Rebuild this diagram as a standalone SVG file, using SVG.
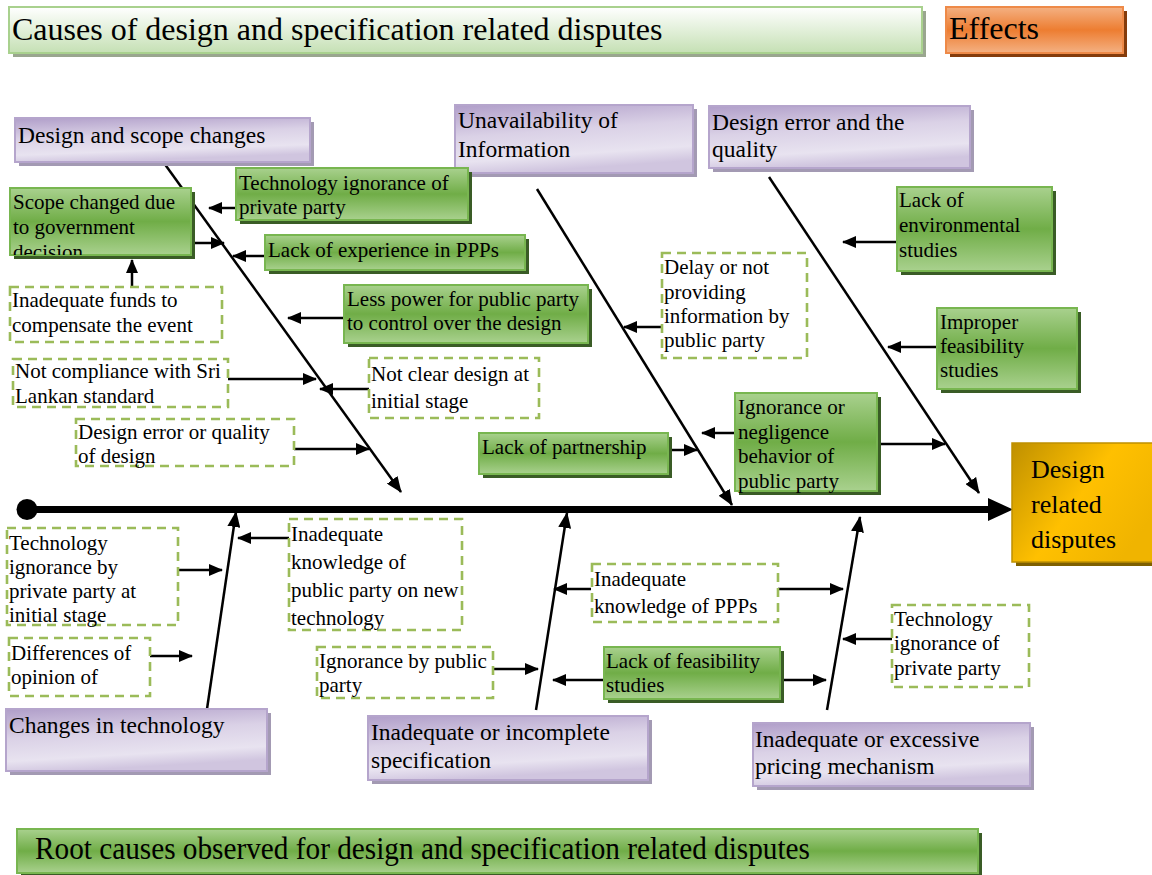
<svg xmlns="http://www.w3.org/2000/svg" width="1152" height="875" viewBox="0 0 1152 875">
<style>
.t{font-family:"Liberation Serif","Times New Roman",serif;fill:#000}
.th{font-size:32px}
.tp{font-size:23.5px}
.tg{font-size:21px}
.pbox{fill:url(#gPurple);stroke:#b5a5cc;stroke-width:2}
.psh{fill:#a39ab3}
.gbox{fill:url(#gGreen);stroke:#78b650;stroke-width:2}
.gsh{fill:#3a5c26}
.dbox{fill:#fff;stroke:#9bbb59;stroke-width:2.6;stroke-dasharray:9 6}
.c{stroke:#000;stroke-width:2.5;fill:none;marker-end:url(#ah)}
.b{stroke:#000;stroke-width:2.5;fill:none;marker-end:url(#ahb)}
</style>
<defs>
<linearGradient id="gPurple" x1="0" y1="0" x2="0.25" y2="1">
<stop offset="0" stop-color="#b09ec9"/>
<stop offset="0.45" stop-color="#dad1e6"/>
<stop offset="0.8" stop-color="#e8e3f0"/>
<stop offset="1" stop-color="#d0c5df"/>
</linearGradient>
<linearGradient id="gGreen" x1="0" y1="0" x2="0" y2="1">
<stop offset="0" stop-color="#a9d18e"/>
<stop offset="0.5" stop-color="#70ad47"/>
<stop offset="1" stop-color="#a9d18e"/>
</linearGradient>
<linearGradient id="gHead" x1="0" y1="0" x2="0" y2="1">
<stop offset="0" stop-color="#ffffff"/>
<stop offset="1" stop-color="#c5e0b4"/>
</linearGradient>
<linearGradient id="gOrange" x1="0" y1="0" x2="0" y2="1">
<stop offset="0" stop-color="#f4b183"/>
<stop offset="0.5" stop-color="#ed7d31"/>
<stop offset="1" stop-color="#f4b183"/>
</linearGradient>
<linearGradient id="gGold" x1="0" y1="0" x2="1" y2="0.6">
<stop offset="0" stop-color="#bf9000"/>
<stop offset="0.55" stop-color="#ffc000"/>
<stop offset="1" stop-color="#f0b400"/>
</linearGradient>
<marker id="ah" viewBox="0 0 14 12" refX="13" refY="6" markerWidth="14" markerHeight="12" markerUnits="userSpaceOnUse" orient="auto"><path d="M0,0 L14,6 L0,12 z" fill="#000"/></marker>
<marker id="ahb" viewBox="0 0 16 13" refX="15" refY="6.5" markerWidth="16" markerHeight="13" markerUnits="userSpaceOnUse" orient="auto"><path d="M0,0 L16,6.5 L0,13 z" fill="#000"/></marker>
<clipPath id="clipScope"><rect x="10" y="188" width="182" height="67"/></clipPath>
<clipPath id="clipDiff"><rect x="9" y="638" width="141" height="58"/></clipPath>
</defs>

<!-- Headers -->
<g id="header-causes">
<rect x="13" y="11" width="913" height="46" fill="#9aa68f"/>
<rect x="9" y="7" width="913" height="46" fill="url(#gHead)" stroke="#a9d18e" stroke-width="2"/>
<text class="t th" x="12" y="40">Causes of design and specification related disputes</text>
</g>
<g id="header-effects">
<rect x="950" y="11" width="177" height="46" fill="#843c0c"/>
<rect x="946" y="7" width="177" height="46" fill="url(#gOrange)" stroke="#ee8a48" stroke-width="2"/>
<text class="t th" x="949" y="39">Effects</text>
</g>

<!-- Connectors -->
<g id="connectors">
<line x1="27" y1="509.5" x2="992" y2="509.5" stroke="#000" stroke-width="7"/>
<circle cx="27" cy="509.5" r="10.5" fill="#000"/>
<polygon points="988,498 1013,509.5 988,521" fill="#000"/>
<line class="b" x1="164" y1="163" x2="401" y2="492"/>
<line class="b" x1="537" y1="189" x2="732" y2="505"/>
<line class="b" x1="769" y1="177" x2="979" y2="493"/>
<line class="b" x1="207" y1="709" x2="236" y2="512"/>
<line class="b" x1="536" y1="710" x2="567" y2="513"/>
<line class="b" x1="827" y1="710" x2="860" y2="517"/>
<line class="c" x1="236" y1="208" x2="209" y2="208"/>
<line class="c" x1="191" y1="243" x2="224" y2="243"/>
<line class="c" x1="265" y1="256" x2="233" y2="256"/>
<line class="c" x1="132" y1="287" x2="132" y2="260"/>
<line class="c" x1="344" y1="318" x2="288" y2="318"/>
<line class="c" x1="228" y1="379" x2="316" y2="379"/>
<line class="c" x1="369" y1="389" x2="320" y2="389"/>
<line class="c" x1="294" y1="449" x2="369" y2="449"/>
<line class="c" x1="662" y1="327" x2="624" y2="327"/>
<line class="c" x1="896" y1="242" x2="843" y2="242"/>
<line class="c" x1="937" y1="347" x2="888" y2="347"/>
<line class="c" x1="668" y1="450" x2="697" y2="450"/>
<line class="c" x1="735" y1="433" x2="702" y2="433"/>
<line class="c" x1="877" y1="444" x2="945" y2="444"/>
<line class="c" x1="178" y1="570" x2="222" y2="570"/>
<line class="c" x1="150" y1="656" x2="192" y2="656"/>
<line class="c" x1="289" y1="538" x2="238" y2="538"/>
<line class="c" x1="493" y1="669" x2="538" y2="669"/>
<line class="c" x1="591" y1="589" x2="554" y2="589"/>
<line class="c" x1="778" y1="589" x2="843" y2="589"/>
<line class="c" x1="604" y1="680" x2="553" y2="680"/>
<line class="c" x1="780" y1="680" x2="826" y2="680"/>
<line class="c" x1="892" y1="639" x2="843" y2="639"/>
</g>

<!-- Purple category nodes -->
<g id="cat-design-scope">
<rect x="19" y="122" width="295" height="44" class="psh"/>
<rect x="15" y="118" width="295" height="44" class="pbox"/>
<text class="t tp" x="18" y="143">Design and scope changes</text>
</g>
<g id="cat-unavailability">
<rect x="459" y="109" width="238" height="68" class="psh"/>
<rect x="455" y="105" width="238" height="68" class="pbox"/>
<text class="t tp" x="458" y="128">Unavailability of</text>
<text class="t tp" x="458" y="157">Information</text>
</g>
<g id="cat-design-error">
<rect x="713" y="110" width="261" height="62" class="psh"/>
<rect x="709" y="106" width="261" height="62" class="pbox"/>
<text class="t tp" x="712" y="130">Design error and the</text>
<text class="t tp" x="712" y="157">quality</text>
</g>
<g id="cat-technology">
<rect x="10" y="713" width="261" height="62" class="psh"/>
<rect x="6" y="709" width="261" height="62" class="pbox"/>
<text class="t tp" x="9" y="733">Changes in technology</text>
</g>
<g id="cat-specification">
<rect x="372" y="720" width="280" height="64" class="psh"/>
<rect x="368" y="716" width="280" height="64" class="pbox"/>
<text class="t tp" x="371" y="740">Inadequate or incomplete</text>
<text class="t tp" x="371" y="768">specification</text>
</g>
<g id="cat-pricing">
<rect x="757" y="727" width="277" height="63" class="psh"/>
<rect x="753" y="723" width="277" height="63" class="pbox"/>
<text class="t tp" x="755" y="747">Inadequate or excessive</text>
<text class="t tp" x="755" y="774">pricing mechanism</text>
</g>

<!-- Green nodes -->
<g id="scope-changed">
<rect x="14" y="192" width="181" height="67" class="gsh"/>
<rect x="10" y="188" width="181" height="67" class="gbox"/>
<g clip-path="url(#clipScope)">
<text class="t tg" x="13" y="209">Scope changed due</text>
<text class="t tg" x="13" y="234">to government</text>
<text class="t tg" x="13" y="259">decision</text>
</g>
</g>
<g id="tech-ignorance-private-top">
<rect x="240" y="172" width="232" height="52" class="gsh"/>
<rect x="236" y="168" width="232" height="52" class="gbox"/>
<text class="t tg" x="239" y="190">Technology ignorance of</text>
<text class="t tg" x="239" y="214">private party</text>
</g>
<g id="lack-experience">
<rect x="269" y="239" width="260" height="35" class="gsh"/>
<rect x="265" y="235" width="260" height="35" class="gbox"/>
<text class="t tg" x="268" y="257">Lack of experience in PPPs</text>
</g>
<g id="less-power">
<rect x="348" y="289" width="244" height="58" class="gsh"/>
<rect x="344" y="285" width="244" height="58" class="gbox"/>
<text class="t tg" x="347" y="306">Less power for public party</text>
<text class="t tg" x="347" y="330">to control over the design</text>
</g>
<g id="lack-environmental">
<rect x="901" y="191" width="155" height="84" class="gsh"/>
<rect x="897" y="187" width="155" height="84" class="gbox"/>
<text class="t tg" x="899" y="207">Lack of</text>
<text class="t tg" x="899" y="232">environmental</text>
<text class="t tg" x="899" y="257">studies</text>
</g>
<g id="improper-feasibility">
<rect x="941" y="312" width="140" height="81" class="gsh"/>
<rect x="937" y="308" width="140" height="81" class="gbox"/>
<text class="t tg" x="940" y="329">Improper</text>
<text class="t tg" x="940" y="353">feasibility</text>
<text class="t tg" x="940" y="377">studies</text>
</g>
<g id="lack-partnership">
<rect x="483" y="437" width="189" height="41" class="gsh"/>
<rect x="479" y="433" width="189" height="41" class="gbox"/>
<text class="t tg" x="482" y="454">Lack of partnership</text>
</g>
<g id="ignorance-negligence">
<rect x="739" y="397" width="142" height="98" class="gsh"/>
<rect x="735" y="393" width="142" height="98" class="gbox"/>
<text class="t tg" x="738" y="414">Ignorance or</text>
<text class="t tg" x="738" y="439">negligence</text>
<text class="t tg" x="738" y="463">behavior of</text>
<text class="t tg" x="738" y="488">public party</text>
</g>
<g id="lack-feasibility">
<rect x="608" y="651" width="176" height="52" class="gsh"/>
<rect x="604" y="647" width="176" height="52" class="gbox"/>
<text class="t tg" x="606" y="668">Lack of feasibility</text>
<text class="t tg" x="606" y="692">studies</text>
</g>

<!-- Dashed nodes -->
<g id="inadequate-funds">
<rect x="10" y="287" width="212" height="55" class="dbox"/>
<text class="t tg" x="12" y="307">Inadequate funds to</text>
<text class="t tg" x="12" y="332">compensate the event</text>
</g>
<g id="not-compliance">
<rect x="13" y="359" width="215" height="48" class="dbox"/>
<text class="t tg" x="15" y="378">Not compliance with Sri</text>
<text class="t tg" x="15" y="403">Lankan standard</text>
</g>
<g id="design-error-quality">
<rect x="76" y="419" width="218" height="47" class="dbox"/>
<text class="t tg" x="78" y="439">Design error or quality</text>
<text class="t tg" x="78" y="463">of design</text>
</g>
<g id="not-clear-design">
<rect x="369" y="358" width="170" height="60" class="dbox"/>
<text class="t tg" x="371" y="381">Not clear design at</text>
<text class="t tg" x="371" y="408">initial stage</text>
</g>
<g id="delay-information">
<rect x="662" y="253" width="145" height="105" class="dbox"/>
<text class="t tg" x="664" y="274">Delay or not</text>
<text class="t tg" x="664" y="299">providing</text>
<text class="t tg" x="664" y="323">information by</text>
<text class="t tg" x="664" y="347">public party</text>
</g>
<g id="tech-ignorance-initial">
<rect x="7" y="528" width="171" height="97" class="dbox"/>
<text class="t tg" x="9" y="550">Technology</text>
<text class="t tg" x="9" y="574">ignorance by</text>
<text class="t tg" x="9" y="598">private party at</text>
<text class="t tg" x="9" y="622">initial stage</text>
</g>
<g id="differences-opinion">
<rect x="9" y="638" width="141" height="58" class="dbox"/>
<g clip-path="url(#clipDiff)">
<text class="t tg" x="11" y="660">Differences of</text>
<text class="t tg" x="11" y="684">opinion of</text>
</g>
</g>
<g id="inadequate-knowledge-tech">
<rect x="289" y="519" width="173" height="111" class="dbox"/>
<text class="t tg" x="291" y="541">Inadequate</text>
<text class="t tg" x="291" y="569">knowledge of</text>
<text class="t tg" x="291" y="597">public party on new</text>
<text class="t tg" x="291" y="625">technology</text>
</g>
<g id="ignorance-public">
<rect x="317" y="647" width="176" height="51" class="dbox"/>
<text class="t tg" x="319" y="668">Ignorance by public</text>
<text class="t tg" x="319" y="692">party</text>
</g>
<g id="inadequate-knowledge-ppp">
<rect x="592" y="564" width="186" height="58" class="dbox"/>
<text class="t tg" x="594" y="586">Inadequate</text>
<text class="t tg" x="594" y="613">knowledge of PPPs</text>
</g>
<g id="tech-ignorance-private-bottom">
<rect x="892" y="605" width="137" height="82" class="dbox"/>
<text class="t tg" x="894" y="626">Technology</text>
<text class="t tg" x="894" y="650">ignorance of</text>
<text class="t tg" x="894" y="675">private party</text>
</g>

<!-- Effect -->
<g id="effect-design-disputes">
<rect x="1016" y="447" width="140" height="119" fill="#7f6000"/>
<rect x="1012" y="443" width="142" height="119" fill="url(#gGold)" stroke="#bf9000" stroke-width="1.5"/>
<text class="t" font-size="26" x="1031" y="478">Design</text>
<text class="t" font-size="26" x="1031" y="513">related</text>
<text class="t" font-size="26" x="1031" y="548">disputes</text>
</g>

<!-- Bottom banner -->
<g id="banner-root-causes">
<rect x="21" y="833" width="961" height="44" class="gsh"/>
<rect x="17" y="829" width="961" height="44" class="gbox"/>
<text class="t" font-size="31" x="35" y="859" textLength="775" lengthAdjust="spacingAndGlyphs">Root causes observed for design and specification related disputes</text>
</g>
</svg>
